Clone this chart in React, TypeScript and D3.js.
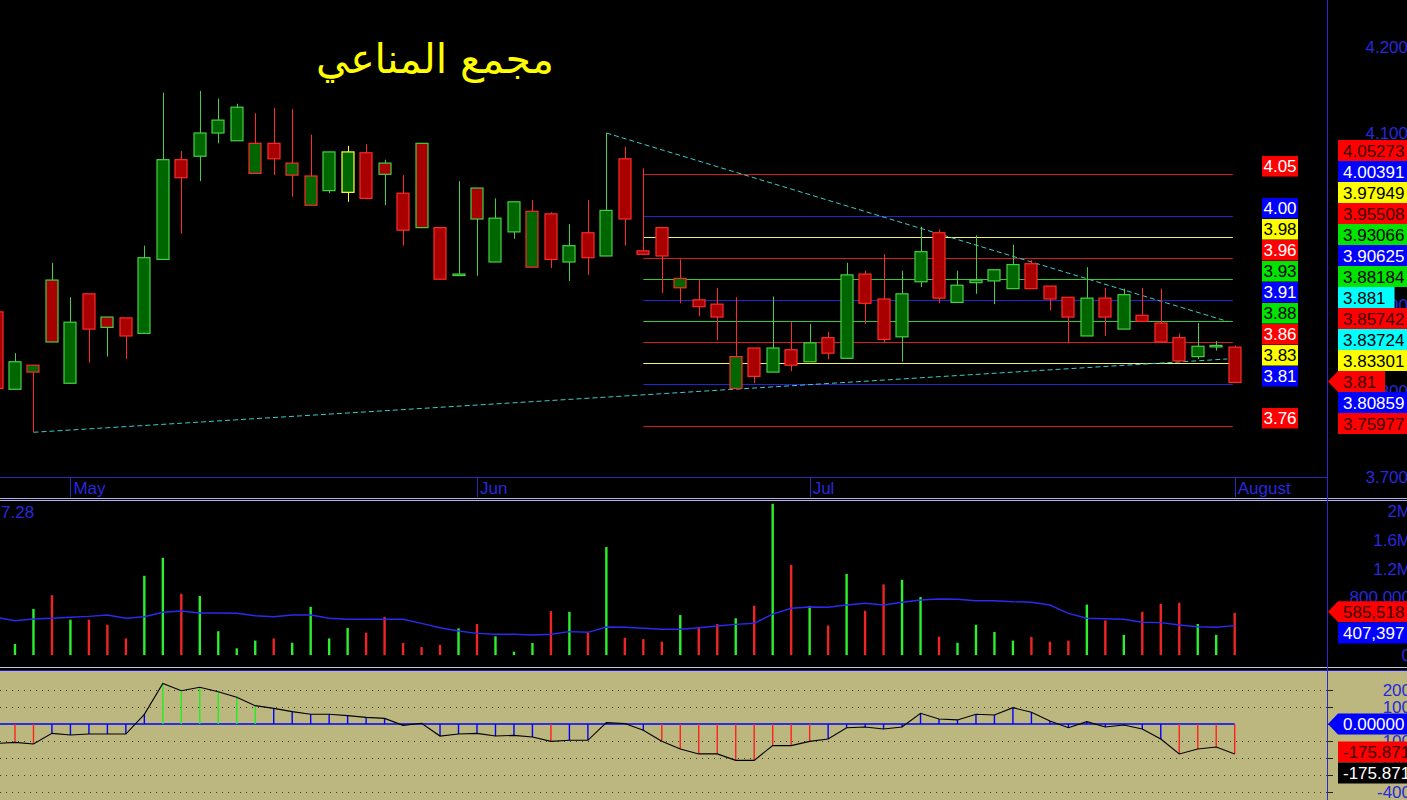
import React from 'react';
import * as d3 from 'd3';

// ---------- DATA ----------
const OPEN = [3.892,3.802,3.822,3.929,3.809,3.913,3.886,3.885,3.867,3.953,4.069,4.073,4.100,4.091,4.053,4.088,4.051,4.016,4.033,4.031,4.077,4.065,4.030,4.088,3.990,3.935,4.036,3.950,3.985,3.944,4.006,3.950,3.984,3.957,4.070,3.963,3.990,3.920,3.906,3.901,3.803,3.850,3.822,3.848,3.834,3.862,3.838,3.936,3.907,3.863,3.927,3.984,3.903,3.926,3.928,3.919,3.948,3.922,3.909,3.864,3.908,3.872,3.888,3.879,3.862,3.840,3.852,3.851];
const HIGH = [3.892,3.844,3.830,3.949,3.909,3.913,3.886,3.885,3.969,4.147,4.079,4.149,4.140,4.134,4.123,4.129,4.128,4.098,4.078,4.085,4.087,4.069,4.051,4.088,3.990,4.044,4.036,4.024,4.020,4.022,4.008,3.994,4.022,4.100,4.084,4.059,3.990,3.953,3.929,3.920,3.909,3.850,3.910,3.880,3.878,3.869,3.949,3.940,3.959,3.940,3.991,3.988,3.940,3.981,3.941,3.970,3.952,3.922,3.909,3.944,3.920,3.919,3.920,3.919,3.867,3.879,3.858,3.853];
const LOW = [3.803,3.802,3.752,3.857,3.809,3.833,3.840,3.837,3.867,3.953,3.983,4.044,4.088,4.091,4.053,4.051,4.026,4.016,4.030,4.020,4.023,4.016,3.969,3.990,3.930,3.934,3.934,3.950,3.977,3.944,3.943,3.928,3.935,3.957,3.969,3.959,3.914,3.902,3.887,3.859,3.803,3.809,3.822,3.823,3.834,3.837,3.838,3.878,3.856,3.834,3.921,3.902,3.903,3.913,3.901,3.919,3.919,3.894,3.857,3.864,3.864,3.872,3.881,3.857,3.835,3.837,3.847,3.810];
const CLOSE = [3.803,3.834,3.830,3.857,3.880,3.872,3.874,3.864,3.955,4.069,4.048,4.100,4.115,4.130,4.088,4.070,4.065,4.050,4.078,4.078,4.024,4.052,3.987,3.990,3.930,3.936,4.000,4.001,4.020,4.009,3.953,3.969,3.955,4.010,4.000,3.959,3.957,3.931,3.898,3.886,3.840,3.817,3.850,3.830,3.856,3.844,3.935,3.902,3.860,3.913,3.962,3.908,3.923,3.929,3.941,3.947,3.919,3.907,3.886,3.908,3.886,3.912,3.881,3.857,3.835,3.852,3.853,3.810];
const VOLUME = [450000,153000,640000,830000,490000,490000,420000,230000,1100000,1350000,850000,820000,330000,93000,200000,230000,170000,670000,230000,375000,310000,530000,167000,110000,140000,370000,430000,260000,46000,167000,610000,600000,310000,1500000,240000,220000,185000,555000,390000,430000,510000,685000,2100000,1250000,680000,410000,1125000,615000,980000,1045000,805000,255000,170000,420000,320000,200000,250000,185000,200000,700000,480000,280000,600000,710000,725000,430000,280000,585518];
const VOLUME_MA = [524000,476000,500000,510000,524000,537000,556000,510000,532000,593000,611000,583000,583000,579000,546000,532000,556000,556000,510000,496000,496000,496000,496000,440000,379000,333000,301000,288000,288000,278000,288000,324000,315000,389000,385000,371000,357000,357000,379000,403000,426000,440000,569000,649000,667000,663000,694000,718000,694000,732000,764000,778000,774000,754000,754000,740000,732000,694000,579000,510000,504000,496000,454000,449000,417000,393000,385000,407397];
const CCI = [-114,-108,-118,-55,-65,-59,-59,-59,57,239,196,216,190,157,108,92,73,57,57,49,39,33,-8,4,-71,-59,-55,-71,-67,-76,-102,-96,-96,8,3,-37,-102,-147,-176,-176,-214,-214,-127,-127,-102,-88,-22,-18,-29,-18,63,29,24,57,53,96,69,18,-22,14,-18,-6,-29,-88,-176,-147,-135,-175.871];

const LEVELS = [4.05273,4.00391,3.97949,3.95508,3.93066,3.90625,3.88184,3.85742,3.83301,3.80859,3.75977];
const LEVEL_KINDS = ['red','blue','yellow','red','green','blue','green','red','yellow','blue','red'];
const LEVEL_FROM = 35;
const LEVEL_TO = 66.9;

const TREND_UPPER = [[33, 4.100], [66.6, 3.881]];
const TREND_LOWER = [[2, 3.752], [66.6, 3.83724]];

const MONTHS = ['May', 'Jun', 'Jul', 'August'];
const MONTH_START = [4, 26, 44, 67];

const PRICE_TICKS = [4.2, 4.1, 4.0, 3.9, 3.8, 3.7];
const VOLUME_TICKS = [0, 400000, 800000, 1200000, 1600000, 2000000];
const CCI_TICKS = [200, 100, 0, -100, -200, -300, -400];

const TITLE = 'مجمع المناعي';
const VOLUME_CAPTION = '7.28';

// ---------- LAYOUT / STYLE ----------
const W = 1407, H = 800;
const AX = 1327;
const FONT = '"Liberation Sans", Arial, sans-serif';
const AXIS_BLUE = '#2828dc';

const BG = { red: '#ff0000', blue: '#0000ff', yellow: '#ffff00', green: '#00e400', cyan: '#00ffff', black: '#000000' };
const TAG_TEXT = { red: '#3a0000', blue: '#ffffff', yellow: '#000000', green: '#000000', cyan: '#000000', black: '#ffffff' };
const BOX_TEXT = { red: '#ffffff', blue: '#ffffff', yellow: '#000000', green: '#000000' };
const LINE_COL = { red: '#d81c1c', blue: '#2424d4', yellow: '#f2f26a', green: '#30cc30' };

function textW(s) {
  let w = 0;
  for (const ch of s) w += /[0-9]/.test(ch) ? 9.45 : ch === '-' ? 5.7 : 4.73;
  return w;
}

function Tag({ cy, text, kind, arrow }) {
  const x0 = 1338, r = 1343 + textW(text) + 9, h = 10.4;
  const pts = arrow
    ? `${1328},${cy} ${x0},${cy - h} ${r},${cy - h} ${r},${cy + h} ${x0},${cy + h}`
    : `${x0},${cy - h} ${r},${cy - h} ${r},${cy + h} ${x0},${cy + h}`;
  return (
    <g>
      <polygon points={pts} fill={BG[kind]} />
      <text x={1343} y={cy + 6} fontFamily={FONT} fontSize={17} fill={TAG_TEXT[kind]}>{text}</text>
    </g>
  );
}

export default function App() {
  const n = CLOSE.length;
  const x = d3.scaleLinear().domain([0, n - 1]).range([-3.5, 1234.7]);
  const yP = d3.scaleLinear().domain([3.7, 4.2]).range([477, 47]);
  const yV = d3.scaleLinear().domain([0, 2000000]).range([655, 511]);
  const yC = d3.scaleLinear().domain([-400, 200]).range([792, 690]);
  const px = (v) => Math.round(v) + 0.5;

  const idx = d3.range(n);
  const edgeKind = (i) => (i === 0 ? 'red' : CLOSE[i] > CLOSE[i - 1] ? 'green' : CLOSE[i] < CLOSE[i - 1] ? 'red' : 'yellow');
  const EDGE = { green: '#44d044', red: '#ff2a2a', yellow: '#ffff40' };

  const volLine = d3.line().x((d, i) => x(i)).y((d) => yV(d)).curve(d3.curveLinear)(VOLUME_MA);
  const cciLine = d3.line().x((d, i) => x(i)).y((d) => yC(d))(CCI);

  const volFmt = (v) => (v >= 1000000 ? `${v / 1000000}M` : d3.format(',')(v));

  const tagItems = [
    ...LEVELS.map((v, k) => ({ v, text: v.toFixed(5), kind: LEVEL_KINDS[k], arrow: false })),
    { v: TREND_UPPER[1][1], text: String(TREND_UPPER[1][1]), kind: 'cyan', arrow: false },
    { v: TREND_LOWER[1][1], text: String(TREND_LOWER[1][1]), kind: 'cyan', arrow: false },
    { v: CLOSE[n - 1], text: CLOSE[n - 1].toFixed(2), kind: 'red', arrow: true },
  ].sort((a, b) => b.v - a.v);

  const lastVol = VOLUME[n - 1];
  const lastMa = VOLUME_MA[n - 1];
  const lastCci = CCI[n - 1];

  return (
    <div style={{ position: 'absolute', left: 0, top: 0, width: W, height: H, overflow: 'hidden', background: '#000' }}>
      <svg width={W} height={H} style={{ display: 'block' }}>
        <defs>
          <clipPath id="cp-price"><rect x={0} y={0} width={AX} height={477} /></clipPath>
          <clipPath id="cp-vol"><rect x={0} y={501} width={AX} height={166} /></clipPath>
          <clipPath id="cp-cci"><rect x={0} y={671} width={AX} height={129} /></clipPath>
        </defs>
        <rect x={0} y={0} width={W} height={H} fill="#000" />

        {/* ===== PRICE PANEL ===== */}
        <text x={435} y={73} textAnchor="middle" fontFamily='"DejaVu Sans", sans-serif' fontSize={41} fill="#ffff00">{TITLE}</text>
        <g clipPath="url(#cp-price)">
          {LEVELS.map((v, k) => (
            <line key={'lv' + k} x1={x(LEVEL_FROM)} x2={x(LEVEL_TO)} y1={px(yP(v))} y2={px(yP(v))} stroke={LINE_COL[LEVEL_KINDS[k]]} strokeWidth={1} />
          ))}
          {[TREND_UPPER, TREND_LOWER].map((t, k) => (
            <line key={'tr' + k} x1={x(t[0][0])} y1={yP(t[0][1])} x2={x(t[1][0])} y2={yP(t[1][1])} stroke="#3ecaca" strokeWidth={1} strokeDasharray="5,3" />
          ))}
          {idx.map((i) => {
            const cx = x(i);
            const ek = EDGE[edgeKind(i)];
            const up = CLOSE[i] >= OPEN[i];
            const top = yP(Math.max(OPEN[i], CLOSE[i]));
            const bot = yP(Math.min(OPEN[i], CLOSE[i]));
            const h = Math.max(bot - top, 1.5);
            return (
              <g key={'c' + i}>
                <line x1={px(cx)} x2={px(cx)} y1={yP(HIGH[i])} y2={yP(LOW[i])} stroke={ek} strokeWidth={1} />
                <rect x={Math.round(cx) - 6} y={top} width={12} height={h} fill={up ? '#006600' : '#a80000'} stroke={ek} strokeWidth={1.2} />
              </g>
            );
          })}
        </g>
        {LEVELS.map((v, k) => {
          const ly = yP(v);
          return (
            <g key={'bx' + k}>
              <rect x={1262} y={ly - 17.6} width={36} height={20.5} fill={BG[LEVEL_KINDS[k]]} />
              <text x={1280} y={ly - 1.4} textAnchor="middle" fontFamily={FONT} fontSize={17} fill={BOX_TEXT[LEVEL_KINDS[k]]}>{v.toFixed(2)}</text>
            </g>
          );
        })}
        <line x1={0} x2={AX} y1={477.5} y2={477.5} stroke="#2a2ab8" strokeWidth={1} />
        {MONTHS.map((m, k) => (
          <g key={'m' + k}>
            <line x1={px(x(MONTH_START[k]))} x2={px(x(MONTH_START[k]))} y1={477} y2={497} stroke="#2a2ab8" strokeWidth={1} />
            <text x={x(MONTH_START[k]) + 3} y={494} fontFamily={FONT} fontSize={17} fill={AXIS_BLUE}>{m}</text>
          </g>
        ))}
        {PRICE_TICKS.map((t) => (
          <text key={'pt' + t} x={1408} y={yP(t) + 6} textAnchor="end" fontFamily={FONT} fontSize={17} fill={AXIS_BLUE}>{t.toFixed(3)}</text>
        ))}
        {tagItems.map((t, k) => (
          <Tag key={'tg' + k} cy={150.5 + k * 21} text={t.text} kind={t.kind} arrow={t.arrow} />
        ))}

        <line x1={0} x2={W} y1={498.5} y2={498.5} stroke="#b4b4f0" strokeWidth={1} />
        <line x1={0} x2={W} y1={500.5} y2={500.5} stroke="#b4b4f0" strokeWidth={1} />

        {/* ===== VOLUME PANEL ===== */}
        <text x={1} y={518} fontFamily={FONT} fontSize={17} fill={AXIS_BLUE}>{VOLUME_CAPTION}</text>
        <g clipPath="url(#cp-vol)">
          {idx.map((i) => (
            <line key={'v' + i} x1={x(i)} x2={x(i)} y1={yV(0)} y2={yV(VOLUME[i])} stroke={CLOSE[i] >= OPEN[i] ? '#2cf02c' : '#f02424'} strokeWidth={2.4} />
          ))}
          <path d={volLine} fill="none" stroke="#2a2af0" strokeWidth={1.4} />
        </g>
        {VOLUME_TICKS.map((t) => (
          <text key={'vt' + t} x={1411} y={yV(t) + 6} textAnchor="end" fontFamily={FONT} fontSize={17} fill={AXIS_BLUE}>{volFmt(t)}</text>
        ))}
        <Tag cy={611.7} text={d3.format(',')(lastVol)} kind="red" arrow />
        <Tag cy={633} text={d3.format(',')(Math.round(lastMa))} kind="blue" arrow={false} />

        <line x1={0} x2={W} y1={667.5} y2={667.5} stroke="#c8c8d8" strokeWidth={1} />
        <rect x={0} y={668} width={W} height={2} fill="#000" />
        <line x1={0} x2={W} y1={670.5} y2={670.5} stroke="#1818e0" strokeWidth={1.2} />

        {/* ===== CCI PANEL ===== */}
        <rect x={0} y={671} width={W} height={129} fill="#bcb77e" />
        {CCI_TICKS.filter((t) => t !== 0).map((t) => (
          <line key={'g' + t} x1={0} x2={AX} y1={px(yC(t))} y2={px(yC(t))} stroke="#3a3a24" strokeWidth={1} strokeDasharray="1,5" />
        ))}
        {CCI_TICKS.map((t) => (
          <line key={'tk' + t} x1={1328} x2={1333} y1={px(yC(t))} y2={px(yC(t))} stroke="#222" strokeWidth={1} />
        ))}
        <g clipPath="url(#cp-cci)">
          <line x1={0} x2={x(n - 1)} y1={yC(0)} y2={yC(0)} stroke="#0000ff" strokeWidth={1.5} />
          {idx.map((i) => (
            <line key={'h' + i} x1={x(i)} x2={x(i)} y1={yC(0)} y2={yC(CCI[i])} stroke={CCI[i] > 100 ? '#22ee22' : CCI[i] < -100 ? '#ff2020' : '#0000ff'} strokeWidth={1.4} />
          ))}
          <path d={cciLine} fill="none" stroke="#000" strokeWidth={1.1} />
        </g>
        {CCI_TICKS.filter((t) => t !== 0).map((t) => (
          <text key={'ct' + t} x={1411} y={yC(t) + 6} textAnchor="end" fontFamily={FONT} fontSize={17} fill={AXIS_BLUE}>{t}</text>
        ))}
        <Tag cy={724} text={(0).toFixed(5)} kind="blue" arrow />
        <Tag cy={752} text={lastCci.toFixed(3)} kind="red" arrow={false} />
        <Tag cy={773} text={lastCci.toFixed(3)} kind="black" arrow={false} />

        <line x1={AX + 0.5} x2={AX + 0.5} y1={0} y2={H} stroke="#2a2ac8" strokeWidth={1} />
      </svg>
    </div>
  );
}
